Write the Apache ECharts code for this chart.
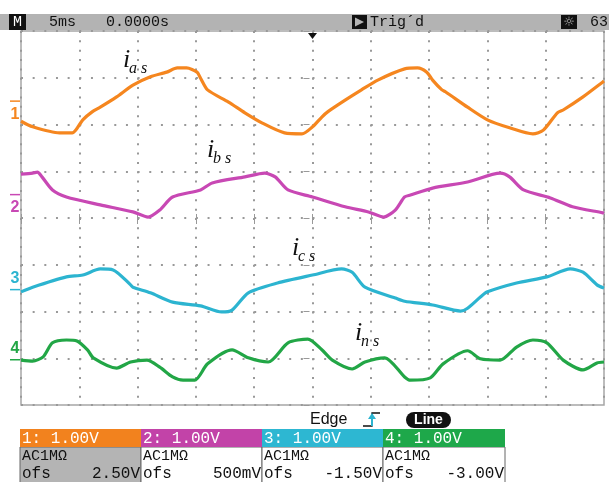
<!DOCTYPE html>
<html><head><meta charset="utf-8">
<style>html,body{margin:0;padding:0;background:#fff}#c{width:609px;height:482px}</style>
<script src="https://cdn.jsdelivr.net/npm/echarts@6/dist/echarts.min.js"></script>
</head><body><div id="c"></div>
<script>
// scope screen: 10 div x 8 div, 5 ms/div, y in divisions from centre
var T_MIN = 0, T_MAX = 50, T_DIV = 5;
var Y_MIN = -4, Y_MAX = 4;

var IAS = [[0,2.07],[1.0,1.95],[3.3,1.82],[4.4,1.82],[5.3,2.10],[6.1,2.27],[6.8,2.37],[8.2,2.59],[9.6,2.84],[11.1,3.02],[12.5,3.12],[13.4,3.21],[14.2,3.21],[15.1,3.12],[15.4,2.99],[16.0,2.74],[17.8,2.48],[19.2,2.25],[20.7,2.03],[22.6,1.82],[24.1,1.80],[25.0,1.95],[25.8,2.16],[26.3,2.27],[27.8,2.52],[29.2,2.74],[30.6,2.95],[32.9,3.19],[34.0,3.21],[34.8,3.12],[35.3,2.95],[36.1,2.74],[36.4,2.70],[38.3,2.37],[40.0,2.10],[41.9,1.93],[43.9,1.80],[44.8,1.88],[46.0,2.25],[46.5,2.31],[48.2,2.59],[49.9,2.91],[50,2.93]];
var IBS = [[0,0.94],[1.0,0.96],[1.4,0.98],[1.8,0.88],[2.7,0.60],[3.9,0.45],[6.8,0.28],[9.6,0.13],[10.9,0.02],[11.9,0.17],[13.0,0.45],[15.4,0.60],[16.4,0.75],[19.2,0.88],[20.9,0.96],[21.8,0.88],[22.9,0.60],[25.0,0.45],[27.8,0.24],[29.8,0.13],[31.1,0.02],[32.1,0.17],[32.9,0.45],[33.4,0.49],[35.3,0.64],[38.3,0.77],[41.1,0.96],[41.9,0.88],[43.1,0.60],[45.4,0.43],[47.3,0.24],[49.9,0.11],[50,0.10]];
var ICS = [[0,-1.58],[1.0,-1.48],[3.9,-1.26],[5.3,-1.22],[6.8,-1.09],[7.9,-1.11],[9.4,-1.43],[9.6,-1.48],[11.1,-1.60],[13.0,-1.80],[15.4,-1.88],[17.2,-2.01],[18.1,-1.97],[19.5,-1.60],[22.0,-1.39],[25.0,-1.22],[27.5,-1.09],[28.4,-1.16],[29.5,-1.48],[32.1,-1.71],[32.9,-1.78],[35.3,-1.86],[37.7,-1.99],[38.3,-1.93],[39.4,-1.69],[40.0,-1.58],[42.5,-1.39],[45.1,-1.26],[47.1,-1.09],[48.2,-1.16],[49.4,-1.43],[50,-1.50]];
var INS = [[0,-3.04],[1.0,-3.06],[1.9,-2.97],[2.7,-2.67],[3.9,-2.61],[4.8,-2.63],[5.7,-2.82],[6.2,-2.99],[8.2,-3.21],[9.4,-3.08],[10.8,-3.04],[11.9,-3.19],[13.0,-3.40],[13.9,-3.47],[14.9,-3.47],[16.0,-3.12],[18.1,-2.82],[19.5,-2.99],[21.2,-3.08],[22.9,-2.67],[24.6,-2.59],[25.8,-2.82],[26.7,-3.04],[28.4,-3.23],[29.5,-3.08],[31.2,-2.99],[32.9,-3.40],[33.4,-3.47],[35.1,-3.42],[36.2,-3.12],[38.3,-2.84],[39.4,-3.01],[41.1,-3.04],[42.5,-2.76],[43.9,-2.61],[45.1,-2.67],[46.5,-3.04],[48.2,-3.25],[49.4,-3.10],[50,-3.08]];

var TRACES = [IAS, IBS, ICS, INS];
var COLORS = ['#f5861f', '#c848b4', '#2cb4d0', '#22a646'];
var HEAD_COLORS = ['#f2821e', '#c243a8', '#2db7d2', '#1ea84a'];
var OFFSETS = [2.5, 0.5, -1.5, -3.0];          // channel ground markers, div
var LABEL_POS = [[8.75,3.23],[15.95,1.30],[23.24,-0.79],[28.64,-2.61]];
var LABEL_SUB = ['a s', 'b s', 'c s', 'n s'];
var CH_HEAD = ['1: 1.00V', '2: 1.00V', '3: 1.00V', '4: 1.00V'];
var CH_COUPLING = ['AC1M\u03a9', 'AC1M\u03a9', 'AC1M\u03a9', 'AC1M\u03a9'];
var CH_OFS = ['2.50V', '500mV', '-1.50V', '-3.00V'];

var MONO = '"Liberation Mono", "DejaVu Sans Mono", monospace';
var GRID = {left:21, top:31, right:5, bottom:77};
var W = 609 - GRID.left - GRID.right, H = 482 - GRID.top - GRID.bottom;

var chart = echarts.init(document.getElementById('c'), null, {renderer:'canvas'});

var gray = '#999999';
chart.setOption({
  animation:false,
  backgroundColor:'#ffffff',
  grid:{left:GRID.left, top:GRID.top, right:GRID.right, bottom:GRID.bottom, show:true, borderColor:'#a6a6a6', borderWidth:1.5},
  xAxis:[
    {type:'value', min:T_MIN, max:T_MAX, interval:T_DIV,
     axisLine:{show:false}, axisLabel:{show:false},
     axisTick:{show:true, inside:true, length:4, lineStyle:{color:gray, width:1}},
     splitLine:{show:true, lineStyle:{color:gray, width:2, type:[2, H/40 - 2]}}},
    {type:'value', min:T_MIN, max:T_MAX, interval:T_DIV, position:'top', offset:-(H/2 - 3),
     axisLine:{show:false}, axisLabel:{show:false}, splitLine:{show:false},
     axisTick:{show:true, inside:true, length:6, lineStyle:{color:gray, width:1}}}
  ],
  yAxis:[
    {type:'value', min:Y_MIN, max:Y_MAX, interval:1,
     axisLine:{show:false}, axisLabel:{show:false}, axisTick:{show:false},
     splitLine:{show:true, lineStyle:{color:gray, width:2, type:[2, W/50 - 2]}}},
    {type:'value', min:Y_MIN, max:Y_MAX, interval:1, position:'right', offset:-(W/2 - 3),
     axisLine:{show:false}, axisLabel:{show:false}, splitLine:{show:false},
     axisTick:{show:true, inside:true, length:6, lineStyle:{color:gray, width:1}}}
  ],
  series:TRACES.map(function(d, i){
    return {type:'line', data:d, xAxisIndex:0, yAxisIndex:0, showSymbol:false, smooth:0.25,
            lineStyle:{color:COLORS[i], width:3.2}, silent:true};
  })
});

function px(p){ return chart.convertToPixel({gridIndex:0}, p); }

var g = [];
// top status bar
g.push({type:'rect', shape:{x:0, y:14, width:609, height:16}, style:{fill:'#b3b3b3'}});
g.push({type:'rect', shape:{x:9, y:14, width:17, height:16}, style:{fill:'#111'}});
g.push({type:'text', style:{text:'M', x:17.5, y:22, fill:'#fff', font:'15px ' + MONO, textAlign:'center', textVerticalAlign:'middle'}});
g.push({type:'text', style:{text:'5ms', x:49, y:22.5, fill:'#111', font:'15px ' + MONO, textVerticalAlign:'middle'}});
g.push({type:'text', style:{text:'0.0000s', x:106, y:22.5, fill:'#111', font:'15px ' + MONO, textVerticalAlign:'middle'}});
g.push({type:'rect', shape:{x:352, y:15, width:15, height:14}, style:{fill:'#111'}});
g.push({type:'polygon', shape:{points:[[355,17.5],[355,26.5],[364,22]]}, style:{fill:'#b3b3b3'}});
g.push({type:'text', style:{text:'Trig\u00b4d', x:370, y:22.5, fill:'#111', font:'15px ' + MONO, textVerticalAlign:'middle'}});
// brightness icon
g.push({type:'rect', shape:{x:561, y:15, width:16, height:14}, style:{fill:'#111'}});
g.push({type:'text', style:{text:'\u263c', x:569, y:22.5, fill:'#b3b3b3', font:'bold 13px "DejaVu Sans"', textAlign:'center', textVerticalAlign:'middle'}});
g.push({type:'text', style:{text:'639', x:590, y:22.5, fill:'#111', font:'15px ' + MONO, textVerticalAlign:'middle'}});

// trigger position marker
var tp = px([25, Y_MAX]);
g.push({type:'polygon', shape:{points:[[tp[0]-4.5, tp[1]+2],[tp[0]+4.5, tp[1]+2],[tp[0], tp[1]+8]]}, style:{fill:'#111'}});

// channel ground markers
OFFSETS.forEach(function(o, i){
  var p = px([T_MIN, o]);
  var y = p[1] + (i >= 2 ? 1.5 : 0);
  g.push({type:'line', shape:{x1:10, y1:y, x2:20, y2:y}, style:{stroke:COLORS[i], lineWidth:1.5}});
  g.push({type:'text', style:{text:String(i + 1), x:15, y:y + (i < 2 ? 13 : -11), fill:COLORS[i],
          font:'bold 16px "Liberation Sans", Arial', textAlign:'center', textVerticalAlign:'middle'}});
});

// trace labels i_as ...
LABEL_POS.forEach(function(lp, i){
  var p = px(lp);
  g.push({type:'text', style:{text:'i', x:p[0], y:p[1] + 6, fill:'#111', font:'italic 26px "Liberation Serif", serif', textVerticalAlign:'bottom'}});
  g.push({type:'text', style:{text:LABEL_SUB[i], x:p[0] + 6, y:p[1] + 10, fill:'#111', font:'italic 16px "Liberation Serif", serif', textVerticalAlign:'bottom'}});
});

// trigger info
g.push({type:'text', style:{text:'Edge', x:310, y:420, fill:'#111', font:'16px "Liberation Sans", Arial', textVerticalAlign:'middle'}});
g.push({type:'polyline', shape:{points:[[363,426],[372,426],[372,413],[380,413]]}, style:{stroke:'#111', lineWidth:1.3, fill:null}});
g.push({type:'line', shape:{x1:372, y1:426, x2:372, y2:416}, style:{stroke:'#2cb4d0', lineWidth:2}});
g.push({type:'polygon', shape:{points:[[368,419],[376,419],[372,413]]}, style:{fill:'#2cb4d0'}});
g.push({type:'rect', shape:{x:406, y:412, width:45, height:16, r:8}, style:{fill:'#111'}});
g.push({type:'text', style:{text:'Line', x:428.5, y:420.5, fill:'#fff', font:'bold 14px "Liberation Sans", Arial', textAlign:'center', textVerticalAlign:'middle'}});

// channel boxes
var BOX_X = [20, 141, 262, 383, 505];
CH_HEAD.forEach(function(h, i){
  var x0 = BOX_X[i], x1 = BOX_X[i + 1];
  g.push({type:'rect', shape:{x:x0, y:447, width:x1 - x0, height:36}, style:{fill:i === 0 ? '#b4b4b4' : '#fff', stroke:'#666', lineWidth:1}});
  g.push({type:'rect', shape:{x:x0, y:429, width:x1 - x0, height:18}, style:{fill:HEAD_COLORS[i]}});
  g.push({type:'text', style:{text:h, x:x0 + 2, y:438.5, fill:'#fff', font:'16px ' + MONO, textVerticalAlign:'middle'}});
  g.push({type:'text', style:{text:CH_COUPLING[i], x:x0 + 2, y:456, fill:'#111', font:'15px ' + MONO, textVerticalAlign:'middle'}});
  g.push({type:'text', style:{text:'ofs', x:x0 + 2, y:474, fill:'#111', font:'16px ' + MONO, textVerticalAlign:'middle'}});
  g.push({type:'text', style:{text:CH_OFS[i], x:x1 - 1, y:474, fill:'#111', font:'16px ' + MONO, textAlign:'right', textVerticalAlign:'middle'}});
});

chart.setOption({graphic:{elements:g}});
</script>
</body></html>
